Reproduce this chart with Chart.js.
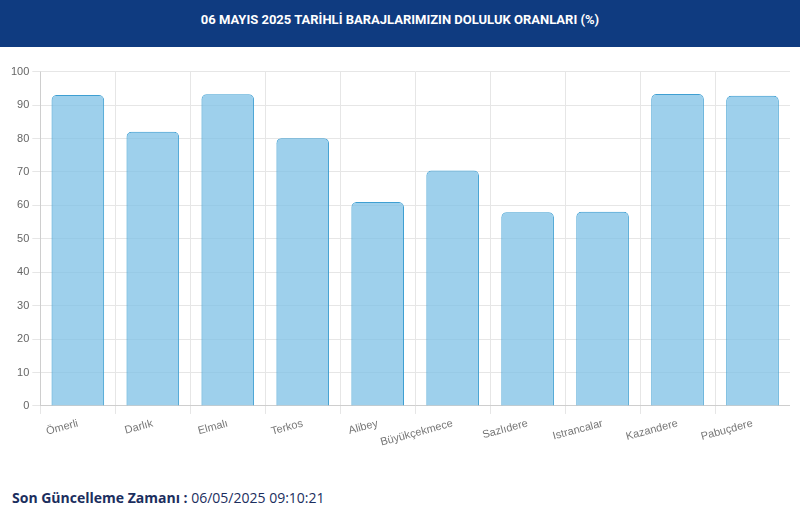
<!DOCTYPE html>
<html><head><meta charset="utf-8">
<script src="https://cdn.jsdelivr.net/npm/chart.js@4"></script>
<style>
body{margin:0;width:800px;height:524px;background:#fff;font-family:"Open Sans",sans-serif;overflow:hidden}
.head{height:47px;background:#0f3b80;color:#fff;font:bold 13px Roboto,sans-serif;text-align:center;line-height:40px}
.wrap{position:absolute;left:8px;top:62px;width:782px;height:390px}
.foot{position:absolute;left:12px;top:488px;font:14px "Open Sans",sans-serif;color:#1b2e5e}
.foot b{color:#1b2e5e}
</style></head><body>
<div class="head">06 MAYIS 2025 TARİHLİ BARAJLARIMIZIN DOLULUK ORANLARI (%)</div>
<div class="wrap"><canvas id="c"></canvas></div>
<div class="foot"><b>Son Güncelleme Zamanı :</b> 06/05/2025 09:10:21</div>
<script>
// dam names and fill ratios (%)
const dams = ['Ömerli','Darlık','Elmalı','Terkos','Alibey','Büyükçekmece','Sazlıdere','Istrancalar','Kazandere','Pabuçdere'];
const fill = [93.0, 82.0, 93.2, 80.1, 61.0, 70.4, 57.9, 58.1, 93.3, 92.8];

new Chart(document.getElementById('c'), {
  type: 'bar',
  data: {labels: dams, datasets: [{
    data: fill,
    backgroundColor: 'rgba(126,192,230,0.75)',
    borderColor: '#3f9fd2', borderWidth: 1, borderRadius: 5, borderSkipped: 'bottom',
    categoryPercentage: 0.9, barPercentage: 0.78
  }]},
  options: {
    responsive: true, maintainAspectRatio: false, animation: false,
    plugins: {legend: {display: false}, tooltip: {enabled: false}},
    scales: {
      x: {grid: {color: '#e6e6e6', offset: true}, ticks: {color: '#777', maxRotation: 15, minRotation: 15, font: {size: 11}}},
      y: {min: 0, max: 100, ticks: {stepSize: 10, color: '#666', font: {size: 11}}, grid: {color: '#e6e6e6'}}
    }
  }
});
</script>
</body></html>
